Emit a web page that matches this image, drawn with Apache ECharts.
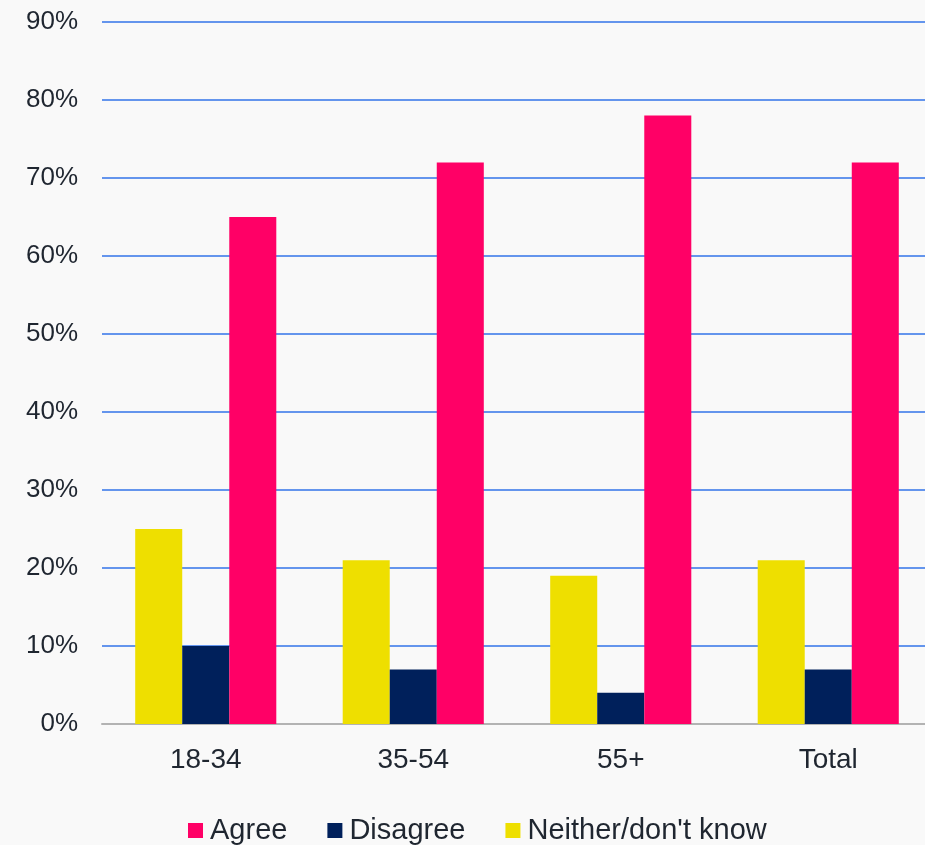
<!DOCTYPE html>
<html>
<head>
<meta charset="utf-8">
<script src="https://cdn.jsdelivr.net/npm/echarts@6/dist/echarts.min.js"></script>
<style>
html,body{margin:0;padding:0;background:#f9f9f9;}
#chart{width:925px;height:845px;}
</style>
</head>
<body>
<div id="chart"></div>
<script>
const categories = ['18-34', '35-54', '55+', 'Total'];
const neither = [25, 21, 19, 21];
const disagree = [10, 7, 4, 7];
const agree = [65, 72, 78, 72];
const legendOrder = ['Agree', 'Disagree', "Neither/don't know"];

const chart = echarts.init(document.getElementById('chart'));
const textColor = '#1f2630';
const ff = 'Liberation Sans, Arial, sans-serif';
chart.setOption({
  backgroundColor: '#f9f9f9',
  animation: false,
  grid: {left: 102, width: 830, top: 22, height: 702, containLabel: false, outerBoundsMode: 'none'},
  legend: {
    data: legendOrder,
    top: 816,
    left: 188,
    padding: 0,
    icon: 'rect',
    itemWidth: 15,
    itemHeight: 15,
    itemGap: 40,
    textStyle: {fontFamily: ff, fontSize: 29, color: textColor, padding: [0, 0, 0, 2]}
  },
  xAxis: {
    type: 'category',
    data: categories,
    axisLine: {lineStyle: {color: '#b3b3b3', width: 2}},
    axisTick: {show: false},
    axisLabel: {fontFamily: ff, fontSize: 28, color: textColor, margin: 22}
  },
  yAxis: {
    type: 'value',
    min: 0, max: 90, interval: 10,
    axisLine: {show: false},
    axisTick: {show: false},
    axisLabel: {formatter: '{value}%', fontFamily: ff, fontSize: 26, color: textColor, margin: 24},
    splitLine: {lineStyle: {color: '#6495ed', width: 2}}
  },
  series: [
    {name: "Neither/don't know", type: 'bar', data: neither, itemStyle: {color: '#eedf00'}, barGap: '0%', barCategoryGap: '32%'},
    {name: 'Disagree', type: 'bar', data: disagree, itemStyle: {color: '#00205b'}},
    {name: 'Agree', type: 'bar', data: agree, itemStyle: {color: '#ff0066'}}
  ]
});
</script>
</body>
</html>
